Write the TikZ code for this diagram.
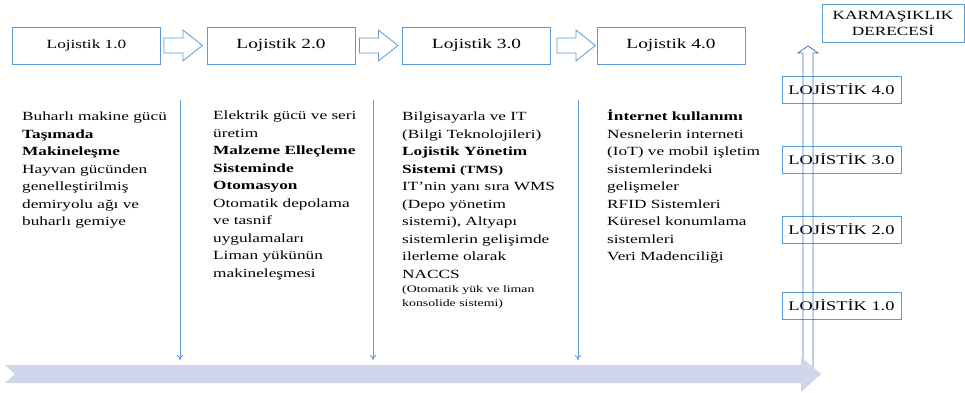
\documentclass[tikz,border=0pt]{standalone}
\usepackage{fontspec}
\setmainfont{Liberation Serif}[FakeStretch=1.38]
\usetikzlibrary{arrows.meta}
\definecolor{boxblue}{HTML}{5B9BD5}
\definecolor{darkblue}{HTML}{4472C4}
\definecolor{lav}{HTML}{CFD5EA}
\tikzset{
  topbox/.style={draw=boxblue, line width=0.8pt, minimum width=148pt, minimum height=37pt, inner sep=0pt},
  sidebox/.style={draw=boxblue, line width=0.8pt, minimum width=119pt, minimum height=27pt, inner sep=0pt, font=\fontsize{13.3}{16}\selectfont},
  hollow/.style={draw=boxblue, line width=0.8pt, fill=white},
  coltext/.style={anchor=north west, inner sep=0pt, align=left, font=\fontsize{12.5}{17.5}\selectfont},
  downline/.style={draw=boxblue, line width=0.9pt, -{To[length=5pt,width=6pt]}},
}
\begin{document}
\begin{tikzpicture}[x=1pt,y=-1pt]
\useasboundingbox (0,0) rectangle (965,392);

% top boxes
\node[topbox, font=\fontsize{12.5}{15}\selectfont] (b1) at (86.5,45.5) {Lojistik 1.0};
\node[topbox, font=\fontsize{14}{16}\selectfont] (b2) at (281,45.5) {Lojistik 2.0};
\node[topbox, font=\fontsize{14}{16}\selectfont] (b3) at (476.5,45.5) {Lojistik 3.0};
\node[topbox, font=\fontsize{14}{16}\selectfont] (b4) at (671,45.5) {Lojistik 4.0};

% hollow block arrows between the boxes
\foreach \a/\o in {b1/3, b2/4, b3/6}{
  \draw[hollow] (\a.east) ++(\o,-7.5) -- ++(19,0) -- ++(0,-8) -- ++(19.5,15.5)
     -- ++(-19.5,15.5) -- ++(0,-8) -- ++(-19,0) -- cycle;
}

% text columns
\node[coltext] (c1) at (22,112) {Buharlı makine gücü\\
\textbf{Taşımada}\\
\textbf{Makineleşme}\\
Hayvan gücünden\\
genelleştirilmiş\\
demiryolu ağı ve\\
buharlı gemiye};

\node[coltext] (c2) at (213,111) {Elektrik gücü ve seri\\
üretim\\
\textbf{Malzeme Elleçleme}\\
\textbf{Sisteminde}\\
\textbf{Otomasyon}\\
Otomatik depolama\\
ve tasnif\\
uygulamaları\\
Liman yükünün\\
makineleşmesi};

\node[coltext] (c3) at (402,112) {Bilgisayarla ve IT\\
(Bilgi Teknolojileri)\\
\textbf{Lojistik Yönetim}\\
\textbf{Sistemi} {\fontsize{11}{17.5}\selectfont\textbf{(TMS)}}\\
IT’nin yanı sıra WMS\\
(Depo yönetim\\
sistemi), Altyapı\\
sistemlerin gelişimde\\
ilerleme olarak\\
NACCS\\[-3pt]
{\fontsize{10}{14}\selectfont (Otomatik yük ve liman}\\[-3.5pt]
{\fontsize{10}{14}\selectfont konsolide sistemi)}};

\node[coltext] (c4) at (607,110) {\textbf{İnternet kullanımı}\\
Nesnelerin interneti\\
(IoT) ve mobil işletim\\
sistemlerindeki\\
gelişmeler\\
RFID Sistemleri\\
Küresel konumlama\\
sistemleri\\
Veri Madenciliği};

% down arrows
\coordinate (d1s) at (180,100); \coordinate (d1e) at (180,360);
\coordinate (d2s) at (373,100); \coordinate (d2e) at (373,360);
\coordinate (d3s) at (578,100); \coordinate (d3e) at (578,360);
\draw[downline] (d1s) -- (d1e);
\draw[downline] (d2s) -- (d2e);
\draw[downline] (d3s) -- (d3e);

% right side boxes
\node[draw=boxblue, line width=0.8pt, minimum width=142pt, minimum height=38pt, inner sep=0pt,
      align=center, font=\fontsize{12.5}{16}\selectfont] (kd) at (893,23) {KARMAŞIKLIK\\DERECESİ};
\node[sidebox] (l4) at (841.5,89.5) {LOJİSTİK 4.0};
\node[sidebox] (l3) at (841.5,159.5) {LOJİSTİK 3.0};
\node[sidebox] (l2) at (841.5,229.5) {LOJİSTİK 2.0};
\node[sidebox] (l1) at (841.5,305.5) {LOJİSTİK 1.0};

% hollow up arrow
\draw[draw=darkblue, line width=0.8pt] (803,368) -- (803,53) -- (798,53) -- (808,46) -- (818,53)
   -- (813,53) -- (813,368) -- cycle;

% big timeline arrow
\fill[lav] (5,365) -- (15,374) -- (5,383) -- (801,383) -- (801,392) -- (821,374) -- (801,357)
   -- (801,365) -- cycle;
\end{tikzpicture}
\end{document}
